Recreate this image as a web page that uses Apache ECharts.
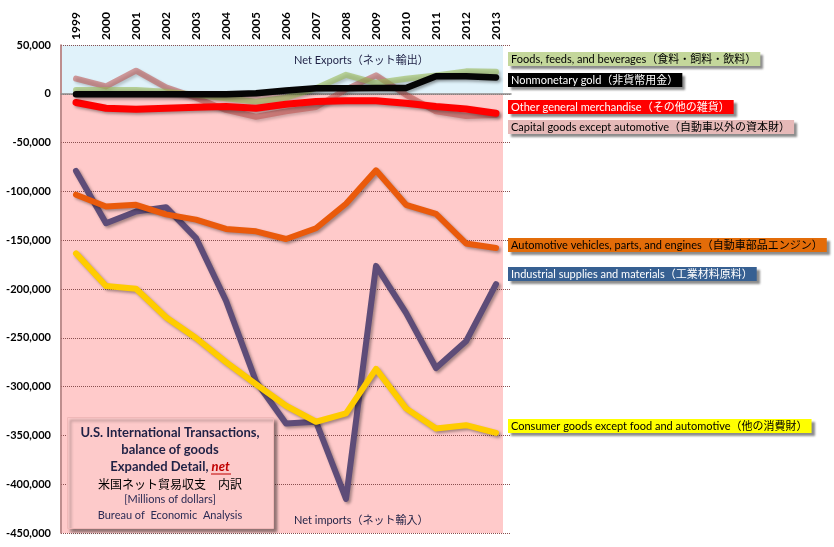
<!DOCTYPE html>
<html>
<head>
<meta charset="utf-8">
<script src="https://cdn.jsdelivr.net/npm/echarts@6/dist/echarts.min.js"></script>
<style>html,body{margin:0;padding:0;background:#fff}#c{width:834px;height:547px}</style>
</head>
<body>
<div id="c"></div>
<script>
var years = ['1999','2000','2001','2002','2003','2004','2005','2006','2007','2008','2009','2010','2011','2012','2013'];
var yTicks = { min: -450000, max: 50000, interval: 50000 };
var industrial = [-79000,-132600,-120600,-116200,-147800,-212000,-294800,-337800,-336000,-415000,-176300,-224400,-281000,-253600,-195000];
var automotive = [-103400,-115500,-113700,-123500,-128900,-138500,-140900,-148800,-137800,-112700,-78400,-113700,-123000,-153300,-158000];
var consumer = [-163500,-196900,-199700,-228900,-250200,-275000,-297600,-319600,-336000,-327500,-281800,-322300,-343000,-339500,-347400];
var capital = [15500,7600,23700,6500,-4000,-16500,-23500,-18000,-13500,4500,18900,-1000,-18000,-22700,-21600];
var foods = [4000,4000,4000,2000,-1000,-4500,-8000,-4000,5800,19500,11000,15500,18700,23000,22500];
var gold = [-500,-500,-500,-500,-500,-500,500,3400,5800,5800,6000,6000,17900,18000,16800];
var other = [-8900,-14800,-15800,-14800,-13700,-13000,-14800,-10700,-7900,-7200,-7200,-9600,-13000,-15500,-19900];

var names = {
  foods: 'Foods, feeds, and beverages（食料・飼料・飲料）',
  gold: 'Nonmonetary gold（非貨幣用金）',
  other: 'Other general merchandise（その他の雑貨）',
  capital: 'Capital goods except automotive（自動車以外の資本財）',
  automotive: 'Automotive vehicles, parts, and engines（自動車部品エンジン）',
  industrial: 'Industrial supplies and materials（工業材料原料）',
  consumer: 'Consumer goods except food and automotive（他の消費財）'
};

var FONT = 'Lato, "Noto Sans CJK JP", sans-serif';
var shadow = { shadowColor: 'rgba(0,0,0,0.35)', shadowBlur: 3, shadowOffsetX: 2, shadowOffsetY: 2 };

function line(name, data, color, opacity, z, width) {
  return {
    type: 'line', name: name, data: data, symbol: 'none', z: z,
    lineStyle: Object.assign({ color: color, width: width || 6, opacity: opacity, cap: 'round', join: 'round' }, shadow),
    itemStyle: { color: color }
  };
}

function tag(text, y, bg, fg) {
  return {
    type: 'text', left: 508, top: y - 8, z: 100,
    style: {
      text: text, fill: fg, font: '11px ' + FONT,
      backgroundColor: bg, padding: [2, 4, 1, 3],
      shadowColor: 'rgba(0,0,0,0.45)', shadowBlur: 2, shadowOffsetX: 3, shadowOffsetY: 3
    }
  };
}

var chart = echarts.init(document.getElementById('c'));
chart.setOption({
  animation: false,
  backgroundColor: '#ffffff',
  grid: { left: 61, right: 323, top: 45, bottom: 14 },
  xAxis: {
    type: 'category', data: years, position: 'top', boundaryGap: true,
    axisLine: { show: true, lineStyle: { color: '#8c8c8c', width: 1.5 } },
    axisTick: { show: false },
    axisLabel: { rotate: 90, margin: 5, color: '#000', fontWeight: 'bold', fontSize: 12, fontFamily: FONT,
      textShadowColor: 'rgba(40,60,160,0.35)', textShadowOffsetX: 1, textShadowOffsetY: 1 },
    splitLine: { show: false }
  },
  yAxis: {
    type: 'value', min: yTicks.min, max: yTicks.max, interval: yTicks.interval,
    axisLine: { show: true, lineStyle: { color: '#a86868', width: 1.5 } },
    axisTick: { show: false },
    axisLabel: { margin: 10, color: '#000', fontWeight: 'bold', fontSize: 11, fontFamily: FONT,
      textShadowColor: 'rgba(40,60,160,0.35)', textShadowOffsetX: 1, textShadowOffsetY: 1,
      formatter: function (v) { return v.toLocaleString('en-US'); } },
    splitLine: { show: true, lineStyle: { type: 'dotted', color: '#8a5050', width: 1 } }
  },
  series: [
    line(names.industrial, industrial, '#5e4c78', 1, 3),
    line(names.consumer, consumer, '#ffcc00', 1, 4),
    line(names.automotive, automotive, '#ea5a0b', 1, 5),
    line(names.capital, capital, '#c0504d', 0.55, 6),
    line(names.foods, foods, '#9bbb59', 0.6, 7),
    line(names.other, other, '#ff0000', 1, 8, 7),
    line(names.gold, gold, '#050505', 1, 9, 6.5)
  ]
});

// Net-exports / net-imports background bands, positioned through the axis scales
var yZero = chart.convertToPixel({ yAxisIndex: 0 }, 0);
var yTop = chart.convertToPixel({ yAxisIndex: 0 }, yTicks.max);
var yBot = chart.convertToPixel({ yAxisIndex: 0 }, yTicks.min);
var xLeft = chart.convertToPixel({ xAxisIndex: 0 }, years[0]) - 14;
var xRight = chart.convertToPixel({ xAxisIndex: 0 }, years[years.length - 1]) + 7;

chart.setOption({
  graphic: [
    { id: 'bgTop', type: 'rect', silent: true, z: -100, shape: { x: xLeft, y: yTop, width: xRight - xLeft, height: yZero - yTop }, style: { fill: '#e0f2fa' } },
    { id: 'bgBot', type: 'rect', silent: true, z: -100, shape: { x: xLeft, y: yZero, width: xRight - xLeft, height: yBot - yZero }, style: { fill: '#ffcaca' } },
    tag(names.foods, 60, '#c4d79b', '#000'),
    tag(names.gold, 81, '#000000', '#fff'),
    tag(names.other, 108, '#ff0000', '#fff'),
    tag(names.capital, 128, '#e6b9b8', '#000'),
    tag(names.automotive, 246, '#e36c09', '#000'),
    tag(names.industrial, 275, '#376092', '#fff'),
    tag(names.consumer, 427, '#ffff00', '#000'),
    { type: 'text', left: 294, top: 55, z: 100, style: { text: 'Net Exports（ネット輸出）', fill: '#1f2145', font: '11px ' + FONT } },
    { type: 'text', left: 294, top: 515, z: 100, style: { text: 'Net imports（ネット輸入）', fill: '#1f2145', font: '11px ' + FONT } },
    {
      type: 'rect', left: 67, top: 417, z: 90,
      shape: { width: 206, height: 111 },
      style: { fill: '#fdcaca', stroke: '#f0b8b8', lineWidth: 1, shadowColor: 'rgba(0,0,0,0.45)', shadowBlur: 3, shadowOffsetX: 3, shadowOffsetY: 3 }
    },
    { type: 'text', x: 170, y: 433, z: 100, style: { text: 'U.S. International Transactions,', fill: '#1f2145', font: 'bold 13px ' + FONT, align: 'center', verticalAlign: 'middle' } },
    { type: 'text', x: 170, y: 450, z: 100, style: { text: 'balance of goods', fill: '#1f2145', font: 'bold 13px ' + FONT, align: 'center', verticalAlign: 'middle' } },
    { type: 'text', x: 170, y: 467, z: 100, style: {
      text: '{b|Expanded Detail, }{n|net}', align: 'center', verticalAlign: 'middle',
      rich: {
        b: { fill: '#1f2145', font: 'bold 13px ' + FONT },
        n: { fill: '#c00000', font: 'italic bold 13px ' + FONT }
      } } },
    { type: 'line', z: 100, shape: { x1: 211, y1: 474, x2: 231, y2: 474 }, style: { stroke: '#c00000', lineWidth: 1 } },
    { type: 'text', x: 170, y: 484, z: 100, style: { text: '米国ネット貿易収支　内訳', fill: '#000', font: '12px "Noto Sans CJK JP", sans-serif', align: 'center', verticalAlign: 'middle' } },
    { type: 'text', x: 170, y: 499, z: 100, style: { text: '[Millions of dollars]', fill: '#2b2b55', font: '11px ' + FONT, align: 'center', verticalAlign: 'middle' } },
    { type: 'text', x: 170, y: 515, z: 100, style: { text: 'Bureau of  Economic  Analysis', fill: '#2b2b55', font: '11px ' + FONT, align: 'center', verticalAlign: 'middle' } }
  ]
});
</script>
</body>
</html>
